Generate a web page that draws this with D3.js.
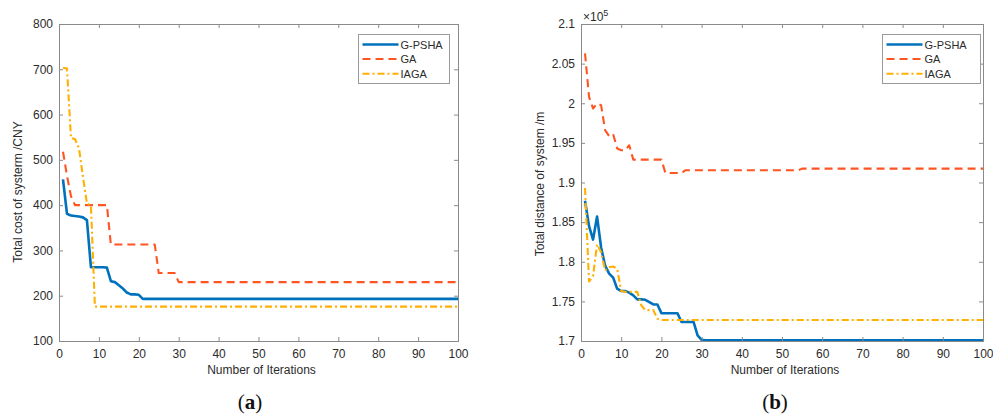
<!DOCTYPE html>
<html>
<head>
<meta charset="utf-8">
<script src="https://cdn.jsdelivr.net/npm/d3@7"></script>
<style>
  html, body { margin: 0; padding: 0; background: #fff; }
  svg { display: block; }
  text { font-family: "Liberation Sans", Arial, Helvetica, sans-serif; }
  text.caption { font-family: "Liberation Serif", "DejaVu Serif", serif; }
</style>
</head>
<body>
<svg id="chart" width="993" height="414"></svg>
<script>
// ---- Panel (a): total cost of the system (CNY), iterations 1..100 ----
const costGPSHA = [457, 381, 377, 376, 375, 373, 367, 263, 263, 263, 263, 262, 232, 230, 223, 216, 207, 203, 203, 202, 193];
const costGA    = [518, 465, 420, 400, 400, 400, 400, 400, 400, 400, 400, 400, 313, 313, 313, 313, 313, 313, 313, 313, 313, 313, 313, 313, 250, 250, 250, 250, 250, 230];
const costIAGA  = [703, 702, 548, 546, 526, 463, 403, 400, 176];

// ---- Panel (b): total distance of the system (×10^5 m), iterations 1..100 ----
const distGPSHA = [1.877, 1.845, 1.828, 1.857, 1.818, 1.795, 1.785, 1.780, 1.766, 1.763, 1.763, 1.761, 1.7575, 1.7525, 1.7525, 1.752, 1.749, 1.7461, 1.746, 1.7352, 1.735, 1.735, 1.735, 1.735, 1.724, 1.724, 1.724, 1.724, 1.707, 1.7015, 1.701];
const distGA    = [2.063, 2.008, 1.9934, 1.9997, 1.9976, 1.966, 1.9584, 1.961, 1.9428, 1.9407, 1.9407, 1.947, 1.9289, 1.9289, 1.9289, 1.9289, 1.9289, 1.9289, 1.9289, 1.9289, 1.912, 1.912, 1.912, 1.912, 1.912, 1.9155];
const distGAStep = { from: 55, value: 1.9175 };   // late small rise of GA
const distIAGA  = [1.893, 1.775, 1.782, 1.822, 1.812, 1.789, 1.793, 1.794, 1.791, 1.763, 1.762, 1.762, 1.762, 1.762, 1.745, 1.739, 1.739, 1.739, 1.728, 1.7265];

const xTicks = [0, 10, 20, 30, 40, 50, 60, 70, 80, 90, 100];
const costTicks = [100, 200, 300, 400, 500, 600, 700, 800];
const distTicks = [1.7, 1.75, 1.8, 1.85, 1.9, 1.95, 2, 2.05, 2.1];
const seriesNames = ["G-PSHA", "GA", "IAGA"];
const N_ITER = 100;

// Extend a best-so-far record to the full run by holding its last value
function extend(arr, n) {
  const out = arr.slice();
  while (out.length < n) out.push(out[out.length - 1]);
  return out.map((v, i) => ({ it: i + 1, v }));
}
const distGAFull = extend(distGA, N_ITER).map(d => d.it >= distGAStep.from ? { it: d.it, v: distGAStep.value } : d);

const styles = {
  "G-PSHA": { color: "#0072BD", width: 2.6, dash: null },
  "GA":     { color: "#FF5522", width: 2.1, dash: "8,5" },
  "IAGA":   { color: "#FFB000", width: 2.1, dash: "7,3,2,3" }
};

const svg = d3.select("#chart");
const axisColor = "#8a8a8a";
const textColor = "#2b2b2b";

function panel(cfg) {
  const g = svg.append("g");
  const x = d3.scaleLinear().domain([0, 100]).range([cfg.x0, cfg.x1]);
  const y = d3.scaleLinear().domain(cfg.domain).range([cfg.y1, cfg.y0]);

  const clipId = "clip-" + cfg.id;
  svg.append("clipPath").attr("id", clipId)
    .append("rect").attr("x", cfg.x0).attr("y", cfg.y0)
    .attr("width", cfg.x1 - cfg.x0).attr("height", cfg.y1 - cfg.y0);

  // series lines
  const line = d3.line().x(d => x(d.it)).y(d => y(d.v));
  const lg = g.append("g").attr("clip-path", `url(#${clipId})`);
  cfg.series.forEach(s => {
    const st = styles[s.name];
    lg.append("path").datum(s.data)
      .attr("fill", "none")
      .attr("stroke", st.color)
      .attr("stroke-width", st.width)
      .attr("stroke-dasharray", st.dash)
      .attr("stroke-linejoin", "round")
      .attr("d", line);
  });

  // axes: ticks point inward on all four sides (boxed frame)
  const tl = 4;
  const bottom = g.append("g").attr("transform", `translate(0,${cfg.y1})`)
    .call(d3.axisBottom(x).tickValues(xTicks).tickSize(-tl).tickPadding(7).tickFormat(d3.format("d")));
  const top = g.append("g").attr("transform", `translate(0,${cfg.y0})`)
    .call(d3.axisTop(x).tickValues(xTicks).tickSize(-tl).tickFormat(""));
  const left = g.append("g").attr("transform", `translate(${cfg.x0},0)`)
    .call(d3.axisLeft(y).tickValues(cfg.ticks).tickSize(-tl).tickPadding(6).tickFormat(cfg.fmt));
  const right = g.append("g").attr("transform", `translate(${cfg.x1},0)`)
    .call(d3.axisRight(y).tickValues(cfg.ticks).tickSize(-tl).tickFormat(""));
  [bottom, top, left, right].forEach(a => {
    a.select(".domain").attr("stroke", axisColor).attr("stroke-width", 1);
    a.selectAll(".tick line").attr("stroke", axisColor);
    a.selectAll(".tick text").attr("fill", textColor).attr("font-size", 12)
      .style("font-family", "'Liberation Sans', Arial, sans-serif");
  });
  bottom.selectAll(".tick text").attr("dy", "0.85em");

  // axis titles
  g.append("text")
    .attr("x", (cfg.x0 + cfg.x1) / 2 + 3).attr("y", cfg.y1 + 33)
    .attr("text-anchor", "middle").attr("font-size", 12).attr("fill", textColor)
    .text("Number of Iterations");
  g.append("text")
    .attr("transform", `translate(${cfg.yLabelX},${cfg.yLabelY}) rotate(-90)`)
    .attr("text-anchor", "middle").attr("font-size", 12).attr("fill", textColor)
    .text(cfg.yLabel);

  // legend
  const lx = cfg.legend.x, ly = cfg.legend.y;
  const leg = g.append("g");
  leg.append("rect").attr("x", lx).attr("y", ly).attr("width", cfg.legend.w).attr("height", 49)
    .attr("fill", "#fff").attr("stroke", "#9a9a9a").attr("stroke-width", 1);
  seriesNames.forEach((name, i) => {
    const st = styles[name];
    const yy = ly + 10 + i * 14.6;
    leg.append("line")
      .attr("x1", lx + 4).attr("x2", lx + 40).attr("y1", yy).attr("y2", yy)
      .attr("stroke", st.color).attr("stroke-width", name === "G-PSHA" ? 2.4 : 2)
      .attr("stroke-dasharray", st.dash);
    leg.append("text")
      .attr("x", lx + 42).attr("y", yy + 4)
      .attr("font-size", 11).attr("fill", textColor)
      .text(name);
  });

  // panel caption
  const cap = g.append("text")
    .attr("class", "caption")
    .attr("x", cfg.capX).attr("y", 409)
    .attr("text-anchor", "middle")
    .attr("font-size", 21).attr("fill", "#111");
  cap.append("tspan").text("(");
  cap.append("tspan").attr("font-weight", "bold").text(cfg.caption);
  cap.append("tspan").text(")");

  return { g, x, y };
}

panel({
  id: "a", x0: 59, x1: 458, y0: 24, y1: 341,
  domain: [100, 800], ticks: costTicks, fmt: d3.format("d"),
  yLabel: "Total cost of systerm /CNY", yLabelX: 22, yLabelY: 192,
  legend: { x: 358.5, y: 34.5, w: 91 },
  caption: "a", capX: 250,
  series: [
    { name: "G-PSHA", data: extend(costGPSHA, N_ITER) },
    { name: "GA", data: extend(costGA, N_ITER) },
    { name: "IAGA", data: extend(costIAGA, N_ITER) }
  ]
});

const pb = panel({
  id: "b", x0: 581, x1: 983, y0: 24, y1: 341,
  domain: [1.7, 2.1], ticks: distTicks, fmt: d => d3.format("")(+d.toFixed(2)),
  yLabel: "Total distance of system /m", yLabelX: 544, yLabelY: 184,
  legend: { x: 882.5, y: 34.5, w: 98 },
  caption: "b", capX: 775,
  series: [
    { name: "G-PSHA", data: extend(distGPSHA, N_ITER) },
    { name: "GA", data: distGAFull },
    { name: "IAGA", data: extend(distIAGA, N_ITER) }
  ]
});

// exponent marker for the distance axis
const ex = pb.g.append("text").attr("x", 583).attr("y", 21).attr("font-size", 12).attr("fill", textColor);
ex.append("tspan").text("×10");
ex.append("tspan").attr("font-size", 9).attr("dy", -5).text("5");
</script>
</body>
</html>
